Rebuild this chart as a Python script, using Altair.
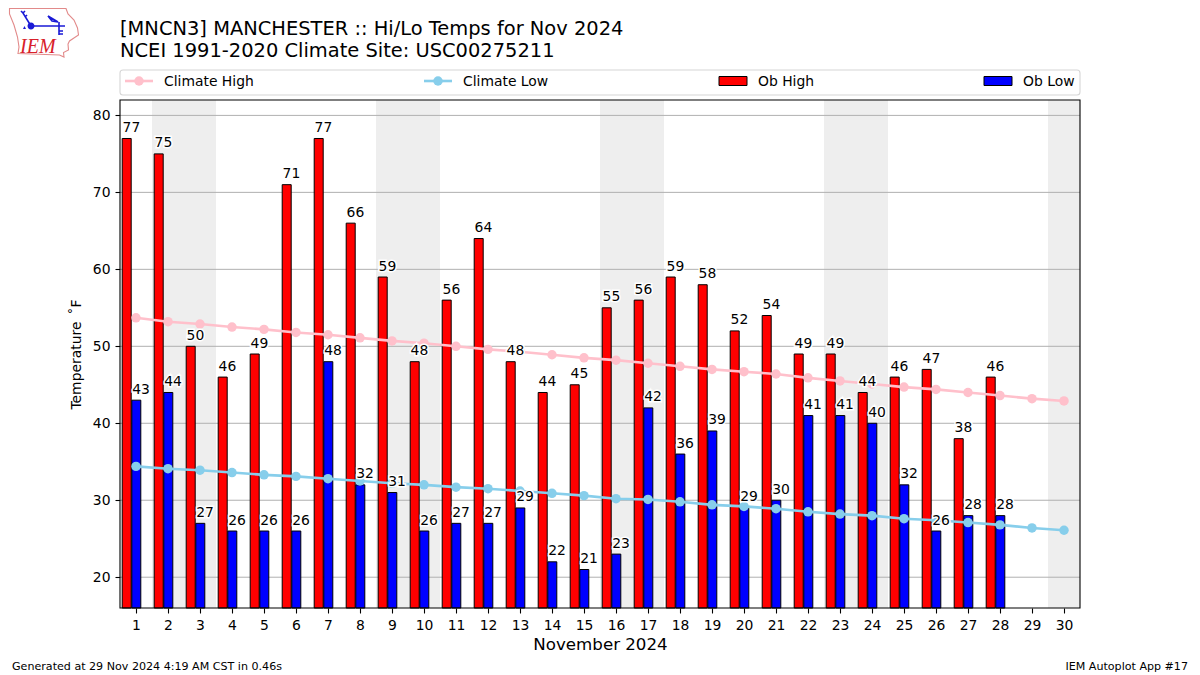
import altair as alt
import pandas as pd

FONT = "DejaVu Sans"

days = list(range(1, 31))
ob_days = list(range(1, 29))
ob_high = [77, 75, 50, 46, 49, 71, 77, 66, 59, 48, 56, 64, 48, 44, 45, 55, 56, 59, 58, 52, 54, 49, 49, 44, 46, 47, 38, 46]
ob_low = [43, 44, 27, 26, 26, 26, 48, 32, 31, 26, 27, 27, 29, 22, 21, 23, 42, 36, 39, 29, 30, 41, 41, 40, 32, 26, 28, 28]
climate_high = [53.7, 53.2, 52.9, 52.5, 52.2, 51.8, 51.5, 51.1, 50.7, 50.4, 50.0, 49.6, 49.3, 48.9, 48.5,
                48.2, 47.8, 47.4, 47.0, 46.7, 46.4, 45.9, 45.5, 45.1, 44.7, 44.4, 44.0, 43.6, 43.2, 42.9]
climate_low = [34.4, 34.1, 33.9, 33.6, 33.3, 33.1, 32.8, 32.5, 32.2, 32.0, 31.7, 31.5, 31.2, 30.9, 30.6,
               30.2, 30.1, 29.8, 29.4, 29.2, 28.9, 28.5, 28.2, 28.0, 27.6, 27.4, 27.1, 26.8, 26.4, 26.1]
weekend_start = [1.5, 8.5, 15.5, 22.5, 29.5]
weekend_end = [3.5, 10.5, 17.5, 24.5, 30.5]
y_ticks = [20, 30, 40, 50, 60, 70, 80]
title_lines = ["[MNCN3] MANCHESTER :: Hi/Lo Temps for Nov 2024", "NCEI 1991-2020 Climate Site: USC00275211"]

W, H = 960, 508
xscale = alt.Scale(domain=[0.5, 30.5], nice=False, zero=False)
yscale = alt.Scale(domain=[16, 82], nice=False, zero=False)
Y_BASE = 16

x_axis = alt.Axis(
    values=days, title="November 2024", titleFontSize=16.67, titleFontWeight="normal",
    titleColor="black", titleFont=FONT, titlePadding=5,
    labelFontSize=13.9, labelFont=FONT, labelColor="black", labelPadding=5,
    tickColor="black", tickSize=5, tickWidth=1.1, domain=False, grid=False, format="d",
    labelFlush=False, labelOverlap=False)
y_axis = alt.Axis(
    values=y_ticks, title="Temperature \u2009˚F",
    titleFontSize=13.9, titleFontWeight="normal", titleColor="black", titleFont=FONT, titlePadding=9,
    labelFontSize=13.9, labelFont=FONT, labelColor="black", labelPadding=5,
    tickColor="black", tickSize=5, tickWidth=1.1, domain=False, grid=False, format="d")

obs = pd.DataFrame({"day": ob_days, "high": ob_high, "low": ob_low})
obs["hx"] = obs.day - 0.45
obs["hx2"] = obs.day - 0.15
obs["lx"] = obs.day - 0.15
obs["lx2"] = obs.day + 0.15
obs["base"] = Y_BASE
clim = pd.DataFrame({"day": days, "chigh": climate_high, "clow": climate_low})
bands = pd.DataFrame({"a": weekend_start, "b": weekend_end})
grid = pd.DataFrame({"y": y_ticks})
one = pd.DataFrame({"a": [0]})


def X(f):
    return alt.X(f, type="quantitative", scale=xscale, axis=x_axis)


def Y(f):
    return alt.Y(f, type="quantitative", scale=yscale, axis=y_axis)


band = alt.Chart(bands).mark_rect(color="#eeeeee").encode(x=X("a"), x2="b:Q")
rule = alt.Chart(grid).mark_rule(color="#b0b0b0", strokeWidth=1).encode(y=Y("y"))

bar_high = alt.Chart(obs).mark_rect(color="#ff0000", stroke="black", strokeWidth=1, xOffset=0.6).encode(
    x=X("hx"), x2="hx2", y=Y("high"), y2="base")
bar_low = alt.Chart(obs).mark_rect(color="#0000ff", stroke="black", strokeWidth=1, xOffset=0.6).encode(
    x=X("lx"), x2="lx2", y=Y("low"), y2="base")


def series_line(field, color):
    line = alt.Chart(clim).mark_line(color=color, strokeWidth=2.6).encode(x=X("day"), y=Y(field))
    pts = alt.Chart(clim).mark_point(color=color, filled=True, opacity=1, size=90).encode(x=X("day"), y=Y(field))
    return line + pts


def labels(xf, yf):
    enc = dict(x=X(xf), y=Y(yf), text=alt.Text(yf, type="quantitative", format="d"))
    halo = alt.Chart(obs).mark_text(align="left", baseline="alphabetic", dx=1, dy=-6.5, font=FONT, fontSize=13.9,
                                    stroke="white", strokeWidth=3, fill="white").encode(**enc)
    fill = alt.Chart(obs).mark_text(align="left", baseline="alphabetic", dx=1, dy=-6.5, font=FONT, fontSize=13.9,
                                    color="black").encode(**enc)
    return halo + fill


def txt(s, x, y, size=13.9, align="left", font=FONT, color="black", **kw):
    return alt.Chart(pd.DataFrame({"t": [s]})).mark_text(
        align=align, baseline="alphabetic", font=font, fontSize=size, color=color, **kw
    ).encode(x=alt.value(x), y=alt.value(y), text="t:N")


frame = alt.Chart(one).mark_rect(fill=None, stroke="black", strokeWidth=1.1).encode(
    x=alt.value(0), x2=alt.value(W), y=alt.value(0), y2=alt.value(H))

# Title
titles = txt(title_lines[0], 0, -65, 19.44) + txt(title_lines[1], 0, -43, 19.44)

# Legend, all in pixels relative to the plot area
LY = -19
leg_box = alt.Chart(one).mark_rect(fill="white", stroke="#d6d6d6", strokeWidth=1.1, cornerRadius=3).encode(
    x=alt.value(0), x2=alt.value(W), y=alt.value(-30), y2=alt.value(-5))


def leg_line(x0, color, label):
    l = alt.Chart(one).mark_rule(color=color, strokeWidth=2.6).encode(
        x=alt.value(x0), x2=alt.value(x0 + 28), y=alt.value(LY))
    p = alt.Chart(one).mark_point(color=color, filled=True, opacity=1, size=90).encode(
        x=alt.value(x0 + 14), y=alt.value(LY))
    return l + p + txt(label, x0 + 39, LY + 5, 13.9)


def leg_patch(x0, color, label):
    r = alt.Chart(one).mark_rect(color=color, stroke="black", strokeWidth=1).encode(
        x=alt.value(x0), x2=alt.value(x0 + 28), y=alt.value(LY - 4.5), y2=alt.value(LY + 4.5))
    return r + txt(label, x0 + 39, LY + 5, 13.9)


legend = (leg_box + leg_line(5, "#ffc0cb", "Climate High") + leg_line(304, "#87ceeb", "Climate Low")
          + leg_patch(599, "#ff0000", "Ob High") + leg_patch(864, "#0000ff", "Ob Low"))

# Footer
footer = (txt("Generated at 29 Nov 2024 4:19 AM CST in 0.46s", -108, 570, 11.1)
          + txt("IEM Autoplot App #17", 1068, 570, 11.1, align="right"))

# Logo, custom symbol paths in page pixels (size=4 gives a scale of 1)
logo_outline = "M9.5 8.5 L66 8.5 L68 14 L74 20 L77.5 28 L78.5 35 L69.5 41 L68 44 L68.5 50 L63.5 52.5 L64 57 L59.5 55 L18 53.5 L19 47 L17.5 37 L14 25 L9.5 14 Z"
logo_lines = ("M31 26 L65 26 M31 26 L23 13 L21 11 M23 13 L25 11 M25 17 L27 15 M59 22 L59 35 "
              "M59 31 L63 31 M59 34 L63 34 M48 16 L58 22 L52 21 Z")
logo_blob = "M27.5 26 A3.5 3.5 0 1 1 34.5 26 A3.5 3.5 0 1 1 27.5 26 Z M23 29 L26 29 L24.5 26 Z"
logo = (
    alt.Chart(one).mark_point(shape=logo_outline, size=4, filled=False, stroke="#e28a8a", strokeWidth=1.1, opacity=1)
    .encode(x=alt.value(-120), y=alt.value(-100))
    + alt.Chart(one).mark_point(shape=logo_lines, size=4, filled=False, stroke="#1a1ad6", strokeWidth=1.6, opacity=1)
    .encode(x=alt.value(-120), y=alt.value(-100))
    + alt.Chart(one).mark_point(shape=logo_blob, size=4, filled=True, fill="#1a1ad6", opacity=1)
    .encode(x=alt.value(-120), y=alt.value(-100))
    + txt("IEM", -100, -47, 20, font="Liberation Serif", color="#d8202a", fontStyle="italic")
)

chart = alt.layer(
    band, rule, bar_high, bar_low,
    series_line("chigh", "#ffc0cb"), series_line("clow", "#87ceeb"),
    labels("hx", "high"), labels("lx", "low"),
    frame, titles, legend, footer, logo,
).properties(
    width=W, height=H,
    padding={"left": 112, "top": 92, "right": 108, "bottom": 67},
    autosize=alt.AutoSizeParams(type="none"),
).configure_view(stroke=None)

chart.save("out.html", embed_options={"renderer": "svg", "actions": False})
